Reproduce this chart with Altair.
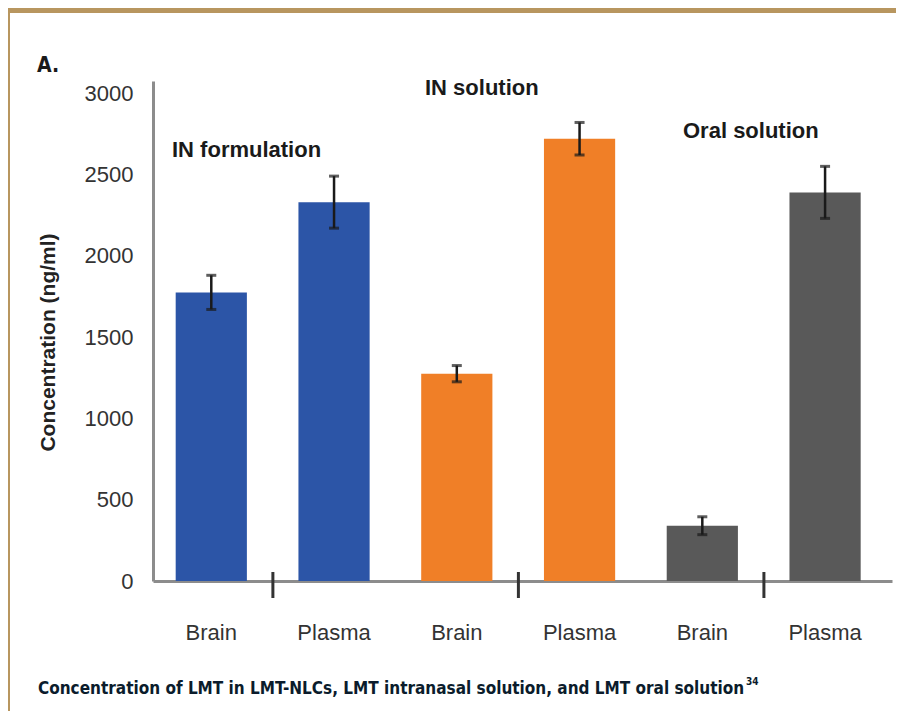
import altair as alt
import pandas as pd

# ---- data ----
groups = ["IN formulation", "IN formulation", "IN solution", "IN solution", "Oral solution", "Oral solution"]
tissues = ["Brain", "Plasma", "Brain", "Plasma", "Brain", "Plasma"]
conc = [1775, 2330, 1275, 2720, 340, 2390]
err = [105, 160, 50, 100, 55, 160]
group_names = ["IN formulation", "IN solution", "Oral solution"]
group_colors = ["#2c55a7", "#f07f27", "#595959"]
y_ticks = [0, 500, 1000, 1500, 2000, 2500, 3000]
y_title = "Concentration (ng/ml)"
panel_label = "A."
caption = "Concentration of LMT in LMT-NLCs, LMT intranasal solution, and LMT oral solution"
caption_ref = "34"

df = pd.DataFrame({"group": groups, "tissue": tissues, "conc": conc, "err": err})
df["key"] = df["group"] + "|" + df["tissue"]
df["lo"] = df["conc"] - df["err"]
df["hi"] = df["conc"] + df["err"]
keys = list(df["key"])

W, H = 739, 500
FONT = "Liberation Sans"
NARROW = "DejaVu Sans Condensed, Liberation Sans Narrow, Liberation Sans"
TAN = "#b8965f"

xscale = alt.Scale(paddingInner=0.42, paddingOuter=0.22, align=0.42)
xaxis = alt.Axis(
    title=None, labelAngle=0, ticks=False, grid=False,
    labelExpr="split(datum.label, '|')[1]",
    labelFont=FONT, labelFontSize=22, labelColor="#333333", labelPadding=41,
    domainColor="#8c8c8c", domainWidth=3,
)
yscale = alt.Scale(domain=[0, 3075], nice=False, zero=True)
yaxis = alt.Axis(
    values=y_ticks, ticks=False, grid=False, format="d",
    labelFont=FONT, labelFontSize=22, labelColor="#333333", labelPadding=20,
    domainColor="#8c8c8c", domainWidth=3,
    title=y_title, titleFont=FONT, titleFontSize=21, titleFontWeight="bold",
    titleColor="#222222", titleAngle=270, titleX=-105, titleY=261,
    titleAlign="center", titleBaseline="middle",
)

x_enc = alt.X("key:N", sort=keys, scale=xscale, axis=xaxis)

bars = alt.Chart(df).mark_bar().encode(
    x=x_enc,
    y=alt.Y("conc:Q", scale=yscale, axis=yaxis),
    color=alt.Color("group:N", scale=alt.Scale(domain=group_names, range=group_colors), legend=None),
)

err_rule = alt.Chart(df).mark_rule(color="#1a1a1a", strokeWidth=2.5).encode(
    x=alt.X("key:N", sort=keys), y="lo:Q", y2="hi:Q"
)
cap_hi = alt.Chart(df).mark_tick(color="#1a1a1a", size=10, thickness=3).encode(
    x=alt.X("key:N", sort=keys), y="hi:Q"
)
cap_lo = alt.Chart(df).mark_tick(color="#1a1a1a", size=10, thickness=3).encode(
    x=alt.X("key:N", sort=keys), y="lo:Q"
)

separators = alt.Chart(df).transform_filter(alt.datum.tissue == "Brain").mark_rule(
    color="#333333", strokeWidth=3, xOffset=26
).encode(
    x=alt.X("key:N", sort=keys, bandPosition=1),
    y=alt.value(491), y2=alt.value(517),
)

one = alt.Data(values=[{"a": 1}])

top_bar = alt.Chart(one).mark_rect(color=TAN).encode(
    x=alt.value(-145), x2=alt.value(743), y=alt.value(-73), y2=alt.value(-68)
)
left_border = alt.Chart(one).mark_rect(color=TAN).encode(
    x=alt.value(-145), x2=alt.value(-143), y=alt.value(-73), y2=alt.value(630)
)

def label(text, x, y, size, font=FONT, weight="bold", color="#1a1a1a"):
    return alt.Chart(one).mark_text(
        text=text, align="left", baseline="alphabetic", font=font,
        fontSize=size, fontWeight=weight, color=color,
    ).encode(x=alt.value(x), y=alt.value(y))

annotations = [
    label(group_names[0], 19, 76, 22),
    label(group_names[1], 272, 14, 22),
    label(group_names[2], 530, 57, 22),
    label(panel_label, -116, -9, 21, font=NARROW),
    label(caption, -115, 613, 17, font=NARROW, color="#0b1c2c"),
    label(caption_ref, 593, 604, 10, font=NARROW, color="#0b1c2c"),
]

chart = alt.layer(
    top_bar, left_border, bars, err_rule, cap_hi, cap_lo, separators, *annotations
).properties(
    width=W, height=H,
    autosize=alt.AutoSizeParams(type="none"),
    padding={"left": 145, "top": 73, "right": 4, "bottom": 130},
    background="white",
).configure_view(strokeWidth=0)

chart.save("out.html", embed_options={"renderer": "svg", "actions": False})
